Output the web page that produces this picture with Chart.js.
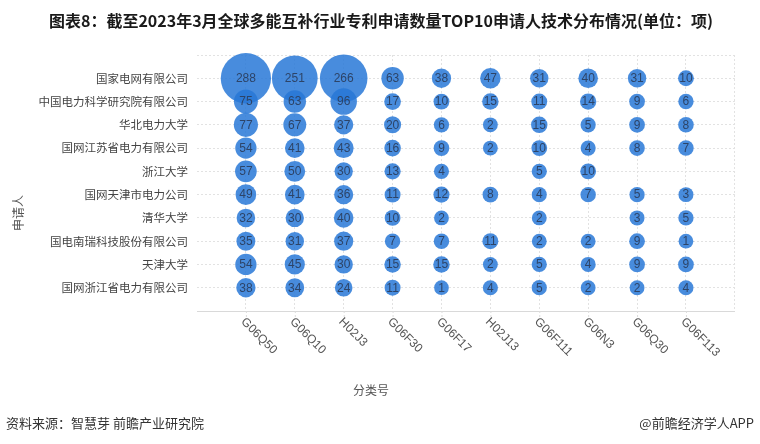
<!DOCTYPE html>
<html>
<head>
<meta charset="utf-8">
<script src="https://cdn.jsdelivr.net/npm/chart.js@4"></script>
<style>
  body { margin: 0; background: #fff; }
  canvas { display: block; }
</style>
</head>
<body>
<canvas id="chart" width="760" height="444"></canvas>
<script>
// Daten
const applicants = [
    '国家电网有限公司', '中国电力科学研究院有限公司', '华北电力大学', '国网江苏省电力有限公司', '浙江大学',
    '国网天津市电力公司', '清华大学', '国电南瑞科技股份有限公司', '天津大学', '国网浙江省电力有限公司'
];
const classes = ['G06Q50', 'G06Q10', 'H02J3', 'G06F30', 'G06F17', 'H02J13', 'G06F111', 'G06N3', 'G06Q30', 'G06F113'];

// eine Spalte je Klasse, Reihenfolge wie applicants (null = kein Wert)
const g06q50 = [288, 75, 77, 54, 57, 49, 32, 35, 54, 38];
const g06q10 = [251, 63, 67, 41, 50, 41, 30, 31, 45, 34];
const h02j3 = [266, 96, 37, 43, 30, 36, 40, 37, 30, 24];
const g06f30 = [63, 17, 20, 16, 13, 11, 10, 7, 15, 11];
const g06f17 = [38, 10, 6, 9, 4, 12, 2, 7, 15, 1];
const h02j13 = [47, 15, 2, 2, null, 8, null, 11, 2, 4];
const g06f111 = [31, 11, 15, 10, 5, 4, 2, 2, 5, 5];
const g06n3 = [40, 14, 5, 4, 10, 7, null, 2, 4, 2];
const g06q30 = [31, 9, 9, 8, null, 5, 3, 9, 9, 2];
const g06f113 = [10, 6, 8, 7, null, 3, 5, 1, 9, 4];

const columns = [g06q50, g06q10, h02j3, g06f30, g06f17, h02j13, g06f111, g06n3, g06q30, g06f113];

// Punkte für das Bubble-Diagramm
const points = [];
columns.forEach((col, ci) => {
    col.forEach((v, ri) => {
        if (v !== null) points.push({ x: ci + 1, y: ri + 1, v: v });
    });
});

const FONT_CN = '"Noto Sans CJK SC", "Noto Sans", sans-serif';

// Beschriftungen, Titel und Quelle selbst zeichnen
const labelPlugin = {
    id: 'labels',
    afterDatasetsDraw(chart) {
        const ctx = chart.ctx;
        const meta = chart.getDatasetMeta(0);
        ctx.save();
        ctx.font = '12px "Liberation Sans", Arial, sans-serif';
        ctx.fillStyle = '#2d4468';
        ctx.textAlign = 'center';
        ctx.textBaseline = 'middle';
        meta.data.forEach((el, i) => {
            ctx.fillText(String(points[i].v), el.x, el.y + 0.5);
        });
        ctx.restore();
    },
    afterDraw(chart) {
        const ctx = chart.ctx;
        const xs = chart.scales.x;
        const ys = chart.scales.y;
        const area = chart.chartArea;
        ctx.save();

        // Titel
        ctx.fillStyle = '#1a1a1a';
        ctx.font = 'bold 16px ' + FONT_CN;
        ctx.textAlign = 'center';
        ctx.textBaseline = 'middle';
        ctx.fillText('图表8：截至2023年3月全球多能互补行业专利申请数量TOP10申请人技术分布情况(单位：项)', 381, 21);

        // y-Beschriftungen
        ctx.font = '11.5px ' + FONT_CN;
        ctx.fillStyle = '#444';
        ctx.textAlign = 'right';
        applicants.forEach((name, i) => {
            ctx.fillText(name, area.left - 9, ys.getPixelForValue(i + 1));
        });

        // x-Markierungen und gedrehte Beschriftungen
        ctx.strokeStyle = '#dcdcdc';
        ctx.setLineDash([2, 2]);
        classes.forEach((c, i) => {
            const px = xs.getPixelForValue(i + 1);
            ctx.beginPath();
            ctx.moveTo(px + 0.5, area.bottom);
            ctx.lineTo(px + 0.5, area.bottom + 8);
            ctx.stroke();
        });
        ctx.setLineDash([]);
        ctx.font = '12px "Liberation Sans", Arial, sans-serif';
        ctx.fillStyle = '#555';
        ctx.textAlign = 'left';
        classes.forEach((c, i) => {
            const px = xs.getPixelForValue(i + 1);
            ctx.save();
            ctx.translate(px - 3, area.bottom + 9);
            ctx.rotate(Math.PI / 4);
            ctx.fillText(c, 0, 0);
            ctx.restore();
        });

        // Achsentitel
        ctx.font = '12px ' + FONT_CN;
        ctx.fillStyle = '#555';
        ctx.textAlign = 'center';
        ctx.fillText('分类号', 371, 390);
        ctx.save();
        ctx.translate(18, 213);
        ctx.rotate(-Math.PI / 2);
        ctx.fillText('申请人', 0, 0);
        ctx.restore();

        // Quelle
        ctx.font = '13px ' + FONT_CN;
        ctx.fillStyle = '#333';
        ctx.textAlign = 'left';
        ctx.fillText('资料来源：智慧芽 前瞻产业研究院', 6, 423);
        ctx.textAlign = 'right';
        ctx.fillText('@前瞻经济学人APP', 754, 423);
        ctx.restore();
    }
};

new Chart(document.getElementById('chart'), {
    type: 'bubble',
    data: {
        datasets: [{
            data: points,
            backgroundColor: 'rgba(40, 120, 215, 0.85)',
            borderWidth: 0,
            radius: ctx => 7.3 + ctx.raw.v * 0.062,
            hoverRadius: 0,
            clip: false
        }]
    },
    options: {
        responsive: false,
        animation: false,
        devicePixelRatio: 1,
        layout: { padding: { left: 197, right: 20, top: 55, bottom: 133 } },
        plugins: { legend: { display: false }, tooltip: { enabled: false } },
        scales: {
            x: {
                type: 'linear',
                min: 0,
                max: 11,
                ticks: { display: false, stepSize: 1 },
                grid: {
                    drawTicks: false,
                    color: c => (c.tick && c.tick.value === 0) ? 'rgba(0,0,0,0)' : '#e2e2e2'
                },
                border: { display: true, color: '#d9d9d9', width: 1, dash: [2, 2] }
            },
            y: {
                type: 'linear',
                min: 0,
                max: 11,
                reverse: true,
                ticks: { display: false, stepSize: 1 },
                grid: { drawTicks: false, color: '#e2e2e2' },
                border: { display: false, dash: [2, 2] }
            }
        }
    },
    plugins: [labelPlugin]
});
</script>
</body>
</html>
